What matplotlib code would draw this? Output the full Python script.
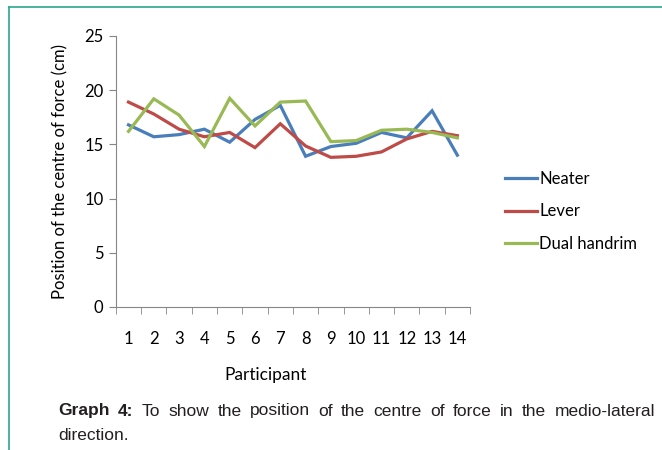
import numpy as np
import matplotlib.pyplot as plt
from matplotlib.lines import Line2D

participants = np.arange(1, 15)
neater = [16.8, 15.7, 15.9, 16.4, 15.2, 17.3, 18.6, 13.9, 14.8, 15.1, 16.1, 15.6, 18.1, 14.0]
lever = [18.9, 17.8, 16.4, 15.7, 16.1, 14.7, 16.9, 14.85, 13.8, 13.9, 14.3, 15.5, 16.2, 15.8]
dual_handrim = [16.2, 19.2, 17.7, 14.8, 19.25, 16.7, 18.9, 19.0, 15.25, 15.35, 16.3, 16.4, 16.1, 15.6]

series = [("Neater", neater, "#4A7EBB"),
          ("Lever", lever, "#BE4B48"),
          ("Dual handrim", dual_handrim, "#98B954")]

chart_font = "Lato"
caption_font = "Liberation Sans"
axis_grey = "#868686"
fs = 12

fig = plt.figure(figsize=(6.62, 4.5), dpi=100)
ax = fig.add_axes([0.175, 0.318, 0.535, 0.602])

for name, vals, color in series:
    ax.plot(participants, vals, color=color, linewidth=2.3, label=name,
            solid_joinstyle="miter")

ax.set_xlim(0.5, 14.5)
ax.set_ylim(0, 25)
ax.set_yticks(np.arange(0, 26, 5))
ax.set_xticks(participants)
ax.set_xticks(np.arange(0.5, 15, 1), minor=True)
ax.tick_params(axis="x", which="major", length=0, pad=17)
ax.tick_params(axis="x", which="minor", length=5, direction="out", color=axis_grey)
ax.tick_params(axis="y", length=5, direction="out", color=axis_grey, pad=4)
for lbl in ax.get_xticklabels() + ax.get_yticklabels():
    lbl.set_fontfamily(chart_font)
    lbl.set_fontsize(fs)
    lbl.set_color("black")

for side in ["top", "right"]:
    ax.spines[side].set_visible(False)
for side in ["left", "bottom"]:
    ax.spines[side].set_color(axis_grey)

ax.set_xlabel("Participant", fontfamily=chart_font, fontsize=fs + 0.5)
ax.xaxis.set_label_coords((266 - 116) / 354, -(375 - 307) / 271, transform=ax.transAxes)
ax.xaxis.label.set_va("center")
ax.set_ylabel("Position of the centre of force (cm)", fontfamily=chart_font,
              fontsize=fs)
ax.yaxis.set_label_coords(-(116 - 61) / 354, 0.5, transform=ax.transAxes)
ax.yaxis.label.set_va("center")

handles = [Line2D([0], [0], color=c, linewidth=2.3) for _, _, c in series]
leg = fig.legend(handles, [n for n, _, _ in series], loc="center left",
                 bbox_to_anchor=(0.74, 0.53), frameon=False,
                 prop={"family": chart_font, "size": fs},
                 handlelength=1.9, handletextpad=0.15, labelspacing=1.0)

# border of the figure panel
border = "#2AA889"
fig.add_artist(Line2D([9 / 662, 1], [1 - 7 / 450, 1 - 7 / 450], color=border, linewidth=1.2))
fig.add_artist(Line2D([9 / 662, 9 / 662], [0, 1 - 7 / 450], color=border, linewidth=1.2))

# justified caption, first line
fig.canvas.draw()
renderer = fig.canvas.get_renderer()
left_px, right_px = 58, 655
cap_fs = 12.5
y1 = 1 - 411 / 450
words = [("Graph", "bold"), ("4:", "bold"), ("To", "normal"), ("show", "normal"),
         ("the", "normal"), ("position", "normal"), ("of", "normal"), ("the", "normal"),
         ("centre", "normal"), ("of", "normal"), ("force", "normal"), ("in", "normal"),
         ("the", "normal"), ("medio-lateral", "normal")]
texts = []
widths = []
for w, weight in words:
    t = fig.text(0, y1, w, fontfamily=caption_font, fontsize=cap_fs, fontweight=weight,
                 color="#231F20", va="center")
    texts.append(t)
    widths.append(t.get_window_extent(renderer).width)
gap = (right_px - left_px - sum(widths)) / (len(words) - 1)
x = left_px
for t, wd in zip(texts, widths):
    t.set_x(x / 662)
    x += wd + gap
fig.text(left_px / 662, 1 - 435 / 450, "direction.", fontfamily=caption_font,
         fontsize=cap_fs, color="#231F20", va="center")

fig.savefig("out.png", dpi=100)
